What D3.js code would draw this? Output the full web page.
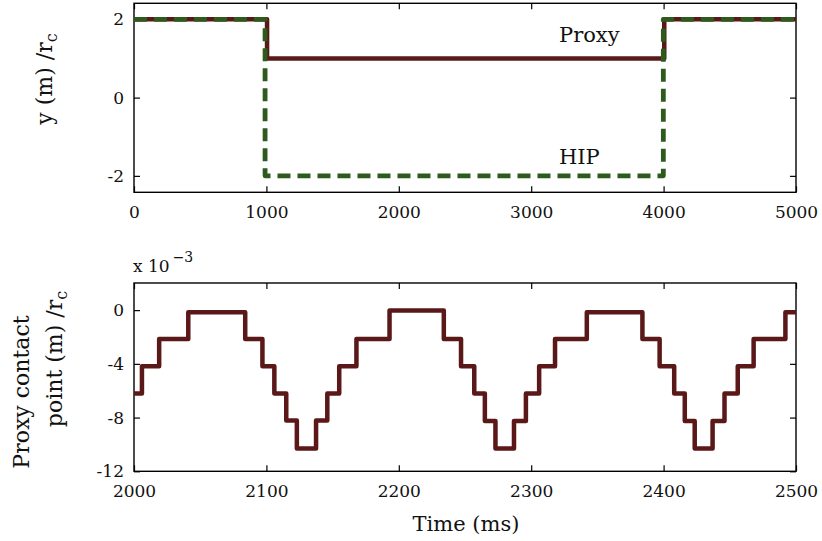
<!DOCTYPE html>
<html>
<head>
<meta charset="utf-8">
<script src="https://cdn.jsdelivr.net/npm/d3@7"></script>
<style>
body { margin: 0; background: #fff; }
text { font-family: "DejaVu Serif", serif; fill: #111; }
</style>
</head>
<body>
<svg id="chart" width="822" height="541"></svg>
<script>
// top panel: proxy and HIP position, value held from each time on
const proxyTimes = [0, 1005, 4005, 5000];
const proxyValues = [2, 1, 2, 2];
const hipTimes = [0, 990, 3998, 5000];
const hipValues = [2, -2, 2, 2];
const topXTicks = [0, 1000, 2000, 3000, 4000, 5000];
const topYTicks = [-2, 0, 2];

// bottom panel: proxy contact point (x 10^-3), value held from each time on
const contactTimes = [2000, 2006, 2019, 2041, 2084, 2097, 2106, 2115, 2123, 2137.5, 2146, 2155, 2168, 2193,
    2234, 2247, 2257, 2265, 2273, 2287, 2296, 2306, 2318, 2342,
    2384, 2397, 2408, 2416, 2423.5, 2437, 2446, 2456, 2468, 2492, 2500];
const contactValues = [-6.2, -4.17, -2.15, -0.15, -2.15, -4.17, -6.2, -8.22, -10.3, -8.22, -6.2, -4.17, -2.15, -0.02,
    -2.15, -4.17, -6.2, -8.25, -10.3, -8.25, -6.2, -4.17, -2.15, -0.15,
    -2.15, -4.17, -6.2, -8.25, -10.3, -8.25, -6.2, -4.17, -2.15, -0.15, -0.15];
const bottomXTicks = [2000, 2100, 2200, 2300, 2400, 2500];
const bottomYTicks = [-12, -8, -4, 0];

const red = "#5a1818";
const green = "#2e5a1e";

const svg = d3.select("#chart");

function drawPanel(box, xDomain, yDomain, xTicks, yTicks) {
    // box = [left, top, right, bottom]
    let [x0, y0, x1, y1] = box;
    let x = d3.scaleLinear().domain(xDomain).range([x0, x1]);
    let y = d3.scaleLinear().domain(yDomain).range([y1, y0]);
    let fmt = d => String(d);

    let g = svg.append("g");
    let styleAxis = a => {
        a.selectAll(".domain").remove();
        a.selectAll(".tick line").attr("stroke", "#000").attr("stroke-width", 1.2);
        a.selectAll("text").style("font-family", "DejaVu Serif").style("font-size", "17px").attr("fill", "#111");
    };
    g.append("g").attr("transform", `translate(0,${y1})`)
        .call(d3.axisBottom(x).tickValues(xTicks).tickFormat(fmt).tickSizeInner(-6).tickSizeOuter(0).tickPadding(14))
        .call(styleAxis);
    g.append("g").attr("transform", `translate(0,${y0})`)
        .call(d3.axisTop(x).tickValues(xTicks).tickFormat("").tickSizeInner(-6).tickSizeOuter(0))
        .call(styleAxis);
    g.append("g").attr("transform", `translate(${x0},0)`)
        .call(d3.axisLeft(y).tickValues(yTicks).tickFormat(fmt).tickSizeInner(-6).tickSizeOuter(0).tickPadding(10))
        .call(styleAxis);
    g.append("g").attr("transform", `translate(${x1},0)`)
        .call(d3.axisRight(y).tickValues(yTicks).tickFormat("").tickSizeInner(-6).tickSizeOuter(0))
        .call(styleAxis);
    g.append("rect").attr("x", x0).attr("y", y0).attr("width", x1 - x0).attr("height", y1 - y0)
        .attr("fill", "none").attr("stroke", "#000").attr("stroke-width", 1.4);
    return [x, y];
}

function stepLine(x, y, times, values) {
    return d3.line().x((d, i) => x(times[i])).y(d => y(d)).curve(d3.curveStepAfter)(values);
}

// top panel
let [xt, yt] = drawPanel([134, 3.3, 796, 192.3], [0, 5000], [-2.42, 2.41], topXTicks, topYTicks);
svg.append("path").attr("d", stepLine(xt, yt, proxyTimes, proxyValues))
    .attr("fill", "none").attr("stroke", red).attr("stroke-width", 4.5).attr("stroke-linejoin", "round");
svg.append("path").attr("d", stepLine(xt, yt, hipTimes, hipValues))
    .attr("fill", "none").attr("stroke", green).attr("stroke-width", 4.8).attr("stroke-linejoin", "round")
    .attr("stroke-dasharray", "13,7");
svg.append("text").attr("x", 559).attr("y", 42).style("font-size", "21px").text("Proxy");
svg.append("text").attr("x", 559).attr("y", 164).style("font-size", "21px").text("HIP");

let ylab = svg.append("text").attr("transform", "translate(52,79) rotate(-90)")
    .attr("text-anchor", "middle").style("font-size", "22px");
ylab.append("tspan").text("y (m) /r");
ylab.append("tspan").attr("dy", 5).style("font-size", "16px").text("c");

// bottom panel
let [xb, yb] = drawPanel([134, 283, 796, 471.3], [2000, 2500], [-12, 2.02], bottomXTicks, bottomYTicks);
svg.append("path").attr("d", stepLine(xb, yb, contactTimes, contactValues))
    .attr("fill", "none").attr("stroke", red).attr("stroke-width", 4.5).attr("stroke-linejoin", "round");

let expo = svg.append("text").attr("x", 133).attr("y", 272).style("font-size", "17px");
expo.append("tspan").text("x 10");
expo.append("tspan").attr("dx", 3).attr("dy", -10).style("font-size", "14px").text("\u22123");

svg.append("text").attr("transform", "translate(29,392) rotate(-90)")
    .attr("text-anchor", "middle").style("font-size", "22px").text("Proxy contact");
let blab = svg.append("text").attr("transform", "translate(62,359) rotate(-90)")
    .attr("text-anchor", "middle").style("font-size", "22px");
blab.append("tspan").text("point (m) /r");
blab.append("tspan").attr("dy", 5).style("font-size", "16px").text("c");

svg.append("text").attr("x", 466).attr("y", 531).attr("text-anchor", "middle")
    .style("font-size", "21px").text("Time (ms)");
</script>
</body>
</html>
